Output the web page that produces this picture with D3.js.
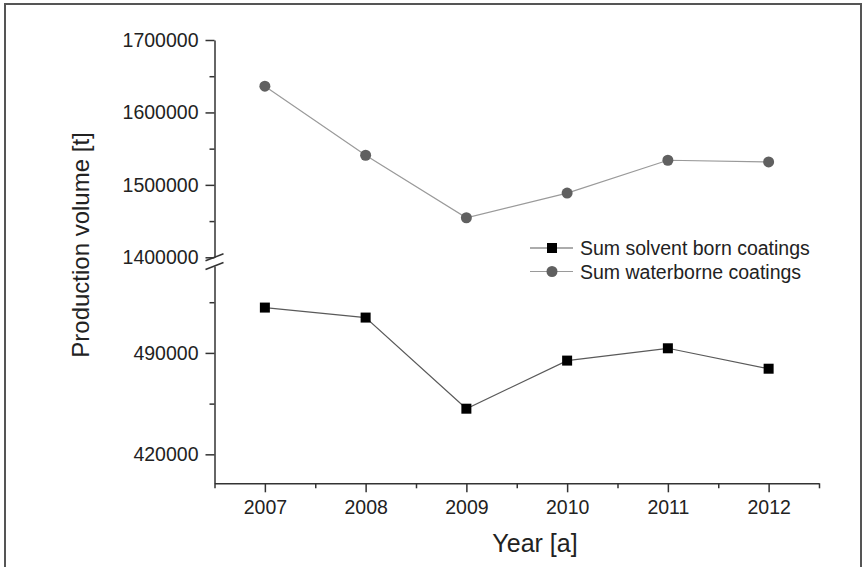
<!DOCTYPE html>
<html>
<head>
<meta charset="utf-8">
<script src="https://cdn.jsdelivr.net/npm/d3@7"></script>
<style>
  body { margin: 0; background: #fff; }
  svg text { font-family: "Liberation Sans", Arial, sans-serif; fill: #222; }
</style>
</head>
<body>
<div id="chart"></div>
<script>
// Chart data
const years = [2007, 2008, 2009, 2010, 2011, 2012];
const solventBorn = [521300, 514400, 451500, 484700, 493200, 479100];
const waterborne = [1636300, 1540900, 1454600, 1488600, 1534000, 1531700];

// Tick values for the broken y axis
const upperTicks = [1400000, 1500000, 1600000, 1700000];
const upperMinor = [1450000, 1550000, 1650000];
const lowerTicks = [420000, 490000];
const lowerMinor = [455000, 525000];
const legendNames = ['Sum solvent born coatings', 'Sum waterborne coatings'];

const width = 867;
const height = 567;

const svg = d3.select('#chart')
    .append('svg')
    .attr('width', width)
    .attr('height', height);

// Frame around the figure
svg.append('rect')
    .attr('x', 5)
    .attr('y', 4)
    .attr('width', 856)
    .attr('height', 620)
    .attr('fill', 'none')
    .attr('stroke', '#555')
    .attr('stroke-width', 2);

// Scales
const x = d3.scaleLinear().domain([2006.5, 2012.5]).range([214.5, 819]);
const yUp = d3.scaleLinear().domain([1400000, 1700000]).range([257.3, 40]);
const yLow = d3.scaleLinear().domain([400000, 550000]).range([483.3, 266]);
const axisLeftX = 214.5;
const axisBottomY = 483.3;
const tickFont = '19.5px';

function styleAxis(g) {
    g.select('.domain').attr('stroke', '#333').attr('stroke-width', 1.5);
    g.selectAll('.tick line').attr('stroke', '#333').attr('stroke-width', 1.5);
    g.selectAll('.tick text')
        .attr('font-size', tickFont)
        .attr('fill', '#222');
}

// Upper y segment
svg.append('g')
    .attr('transform', `translate(${axisLeftX},0)`)
    .call(d3.axisLeft(yUp).tickValues(upperTicks).tickSize(9).tickSizeOuter(0).tickPadding(7).tickFormat(d3.format('d')))
    .call(styleAxis);
svg.append('g')
    .attr('transform', `translate(${axisLeftX},0)`)
    .call(d3.axisLeft(yUp).tickValues(upperMinor).tickSize(5).tickFormat(''))
    .call(g => g.select('.domain').remove())
    .call(styleAxis);

// Lower y segment
svg.append('g')
    .attr('transform', `translate(${axisLeftX},0)`)
    .call(d3.axisLeft(yLow).tickValues(lowerTicks).tickSize(9).tickSizeOuter(0).tickPadding(7).tickFormat(d3.format('d')))
    .call(styleAxis);
svg.append('g')
    .attr('transform', `translate(${axisLeftX},0)`)
    .call(d3.axisLeft(yLow).tickValues(lowerMinor).tickSize(5).tickFormat(''))
    .call(g => g.select('.domain').remove())
    .call(styleAxis);

// Break marks
const breakMarks = [[yUp.range()[0] + 3.5], [yLow.range()[1] + 3.5]];
svg.selectAll('.break')
    .data(breakMarks)
    .enter()
    .append('line')
    .attr('class', 'break')
    .attr('x1', axisLeftX - 9)
    .attr('x2', axisLeftX + 9)
    .attr('y1', d => d[0])
    .attr('y2', d => d[0] - 7)
    .attr('stroke', '#333')
    .attr('stroke-width', 1.5);

// X axis
svg.append('g')
    .attr('transform', `translate(0,${axisBottomY})`)
    .call(d3.axisBottom(x).tickValues(years).tickSize(9).tickSizeOuter(0).tickPadding(8).tickFormat(d3.format('d')))
    .call(styleAxis);
svg.append('g')
    .attr('transform', `translate(0,${axisBottomY})`)
    .call(d3.axisBottom(x).tickValues(years.map(d => d - 0.5).concat([2012.5])).tickSize(5).tickFormat(''))
    .call(g => g.select('.domain').remove())
    .call(styleAxis);

// Axis titles
svg.append('text')
    .attr('x', 535)
    .attr('y', 552)
    .attr('text-anchor', 'middle')
    .attr('font-size', '25px')
    .text('Year [a]');

svg.append('text')
    .attr('transform', 'rotate(-90)')
    .attr('x', -245)
    .attr('y', 89)
    .attr('text-anchor', 'middle')
    .attr('font-size', '24px')
    .text('Production volume [t]');

// Lines
const waterData = years.map((yr, i) => ({ year: yr, value: waterborne[i] }));
const solventData = years.map((yr, i) => ({ year: yr, value: solventBorn[i] }));

svg.append('path')
    .datum(waterData)
    .attr('fill', 'none')
    .attr('stroke', '#9a9a9a')
    .attr('stroke-width', 1.2)
    .attr('d', d3.line().x(d => x(d.year)).y(d => yUp(d.value)));

svg.append('path')
    .datum(solventData)
    .attr('fill', 'none')
    .attr('stroke', '#5a5a5a')
    .attr('stroke-width', 1.2)
    .attr('d', d3.line().x(d => x(d.year)).y(d => yLow(d.value)));

// Markers
svg.selectAll('.dot')
    .data(waterData)
    .enter()
    .append('circle')
    .attr('class', 'dot')
    .attr('cx', d => x(d.year))
    .attr('cy', d => yUp(d.value))
    .attr('r', 5.5)
    .attr('fill', '#606060');

const sq = 10;
svg.selectAll('.square')
    .data(solventData)
    .enter()
    .append('rect')
    .attr('class', 'square')
    .attr('x', d => x(d.year) - sq / 2)
    .attr('y', d => yLow(d.value) - sq / 2)
    .attr('width', sq)
    .attr('height', sq)
    .attr('fill', '#000');

// Legend
const legend = svg.selectAll('.legend')
    .data(legendNames)
    .enter()
    .append('g')
    .attr('class', 'legend')
    .attr('transform', (d, i) => `translate(530, ${248 + i * 23.5})`);

legend.append('line')
    .attr('x1', 0)
    .attr('x2', 43)
    .attr('stroke', (d, i) => i === 0 ? '#5a5a5a' : '#9a9a9a')
    .attr('stroke-width', 1.2);

legend.each(function (d, i) {
    const g = d3.select(this);
    if (i === 0) {
        g.append('rect').attr('x', 22 - sq / 2).attr('y', -sq / 2)
            .attr('width', sq).attr('height', sq).attr('fill', '#000');
    } else {
        g.append('circle').attr('cx', 22).attr('cy', 0).attr('r', 5.5).attr('fill', '#606060');
    }
});

legend.append('text')
    .attr('x', 50)
    .attr('y', 7)
    .attr('font-size', '19.5px')
    .text(d => d);
</script>
</body>
</html>
